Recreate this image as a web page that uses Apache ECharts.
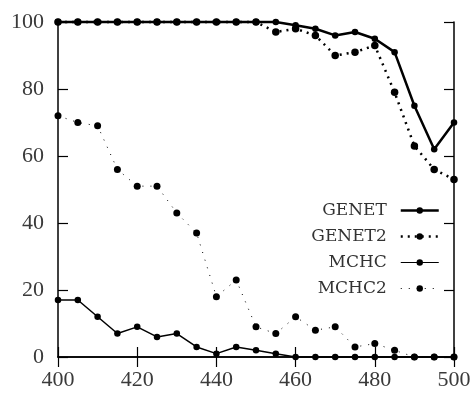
<!DOCTYPE html>
<html>
<head>
<meta charset="utf-8">
<script src="https://cdn.jsdelivr.net/npm/echarts@6/dist/echarts.min.js"></script>
<style>
  html, body { margin: 0; padding: 0; background: #fff; }
  #chart { width: 475px; height: 393px; }
</style>
</head>
<body>
<div id="chart"></div>
<script>
const wavelengths = [400, 405, 410, 415, 420, 425, 430, 435, 440, 445, 450, 455, 460, 465, 470, 475, 480, 485, 490, 495, 500]
const genet = [100, 100, 100, 100, 100, 100, 100, 100, 100, 100, 100, 100, 99, 98, 96, 97, 95, 91, 75, 62, 70]
const genet2 = [100, 100, 100, 100, 100, 100, 100, 100, 100, 100, 100, 97, 98, 96, 90, 91, 93, 79, 63, 56, 53]
const mchc = [17, 17, 12, 7, 9, 6, 7, 3, 1, 3, 2, 1, 0, 0, 0, 0, 0, 0, 0, 0, 0]
const mchc2 = [72, 70, 69, 56, 51, 51, 43, 37, 18, 23, 9, 7, 12, 8, 9, 3, 4, 2, 0, 0, 0]

const pairs = (vals) => wavelengths.map((x, i) => [x, vals[i]])

const labelFont = { fontFamily: 'Liberation Serif', fontSize: 22, color: '#3a3a3a' }

const chart = echarts.init(document.getElementById('chart'), null, { renderer: 'canvas' })

const baseAxis = {
	type: 'value',
	axisLine: { show: true, lineStyle: { color: '#000', width: 1.5 } },
	axisTick: { show: true, inside: true, length: 10, lineStyle: { color: '#000', width: 1.2 } },
	splitLine: { show: false }
}

const makeSeries = (name, vals, width, dash, size) => ({
	name,
	type: 'line',
	data: pairs(vals),
	symbol: 'circle',
	symbolSize: size,
	clip: false,
	itemStyle: { color: '#000' },
	lineStyle: { color: '#000', width, type: dash },
	emphasis: { disabled: true }
})

chart.setOption({
	animation: false,
	backgroundColor: '#fff',
	grid: { left: 58, right: 21, top: 22, bottom: 36 },
	xAxis: [
		{
			...baseAxis,
			min: 400,
			max: 500,
			interval: 20,
			axisLabel: { ...labelFont, margin: 12 }
		},
		{
			...baseAxis,
			position: 'top',
			min: 400,
			max: 500,
			interval: 20,
			axisLabel: { show: false }
		}
	],
	yAxis: [
		{
			...baseAxis,
			min: 0,
			max: 100,
			interval: 20,
			axisLabel: { ...labelFont, margin: 14 }
		},
		{
			...baseAxis,
			position: 'right',
			min: 0,
			max: 100,
			interval: 20,
			axisLabel: { show: false }
		}
	],
	legend: {
		orient: 'vertical',
		align: 'right',
		right: 30,
		top: 197,
		itemWidth: 38,
		itemHeight: 8,
		itemGap: 9,
		textStyle: {
			fontFamily: 'DejaVu Serif',
			fontSize: 17,
			color: '#333',
			lineHeight: 17,
			padding: [0, 9, 0, 0]
		},
		data: [
			{ name: 'GENET', lineStyle: { width: 2.5 } },
			{ name: 'GENET2', lineStyle: { width: 2.5 } },
			{ name: 'MCHC', lineStyle: { width: 1.2 } },
			{ name: 'MCHC2', lineStyle: { width: 1 } }
		]
	},
	series: [
		makeSeries('MCHC2', mchc2, 1, [1, 7], 7),
		makeSeries('MCHC', mchc, 1.5, 'solid', 6.5),
		makeSeries('GENET2', genet2, 2.5, [2, 5], 7.5),
		makeSeries('GENET', genet, 2.5, 'solid', 6.5)
	]
})
</script>
</body>
</html>
